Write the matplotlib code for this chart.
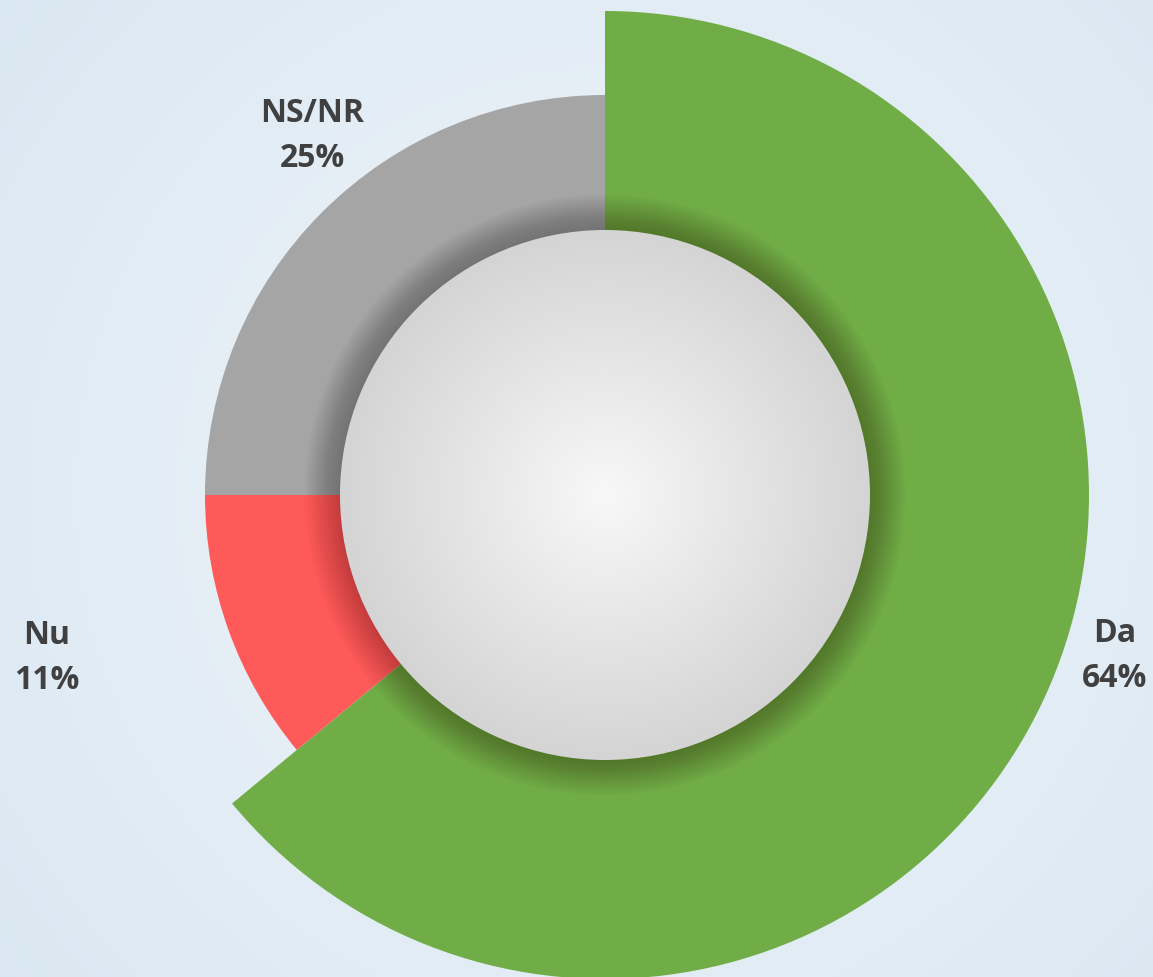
import numpy as np
import matplotlib
matplotlib.use("Agg")
import matplotlib.pyplot as plt
from matplotlib.patches import Circle

labels = ["Da", "Nu", "NS/NR"]
values = [64, 11, 25]
colors = ["#70AD47", "#FF5A5A", "#A5A5A5"]
outer_radii = [484, 400, 400]

W, H = 1153, 977
fig = plt.figure(figsize=(W / 100, H / 100), dpi=100)
ax = fig.add_axes([0, 0, 1, 1])
ax.set_xlim(0, W)
ax.set_ylim(0, H)
ax.set_aspect("equal")
ax.axis("off")

cx, cy = 605, H - 495
r_in = 265

# background radial gradient
yy, xx = np.mgrid[0:H, 0:W]
d = np.sqrt((xx - cx) ** 2 + (yy - cy) ** 2) / 800.0
d = np.clip(d, 0, 1)
c0 = np.array([0xF2, 0xF6, 0xFA]) / 255
c1 = np.array([0xD9, 0xE7, 0xF2]) / 255
bg = c0[None, None, :] * (1 - d[..., None]) + c1[None, None, :] * d[..., None]
ax.imshow(bg, extent=[0, W, 0, H], origin="lower", zorder=0)

wedges, _ = ax.pie(values, colors=colors, startangle=90, counterclock=False,
                   center=(cx, cy), radius=400, frame=True,
                   wedgeprops=dict(linewidth=0))
for w, r in zip(wedges, outer_radii):
    w.set_radius(r)
    w.set_zorder(1)
ax.set_xlim(0, W)
ax.set_ylim(0, H)
ax.axis("off")

# soft shadow around inner circle
n = 30
for i in range(n):
    r = r_in + 36 * (1 - i / n)
    ax.add_patch(Circle((cx, cy), r, color="black", alpha=0.0075, lw=0, zorder=2))

# inner circle with radial gradient
circ = Circle((cx, cy), r_in, facecolor="none", edgecolor="none", zorder=3)
ax.add_patch(circ)
d2 = np.sqrt((xx - cx) ** 2 + (yy - cy) ** 2) / r_in
d2 = np.clip(d2, 0, 1)
g0 = np.array([0xF8, 0xF8, 0xF8]) / 255
g1 = np.array([0xD4, 0xD4, 0xD4]) / 255
gi = g0[None, None, :] * (1 - d2[..., None]) + g1[None, None, :] * d2[..., None]
im = ax.imshow(gi, extent=[0, W, 0, H], origin="lower", zorder=4)
im.set_clip_path(circ)

# labels
pos = {"Da": (1115, 656), "Nu": (47, 658), "NS/NR": (312, 136)}
for lab, v in zip(labels, values):
    x, y = pos[lab]
    ax.text(x, H - y, f"{lab}\n{v}%", ha="center", va="center",
            fontsize=23, fontweight="bold", color="#404040",
            family="Open Sans", linespacing=1.45, zorder=5)

fig.savefig("out.png", dpi=100)
